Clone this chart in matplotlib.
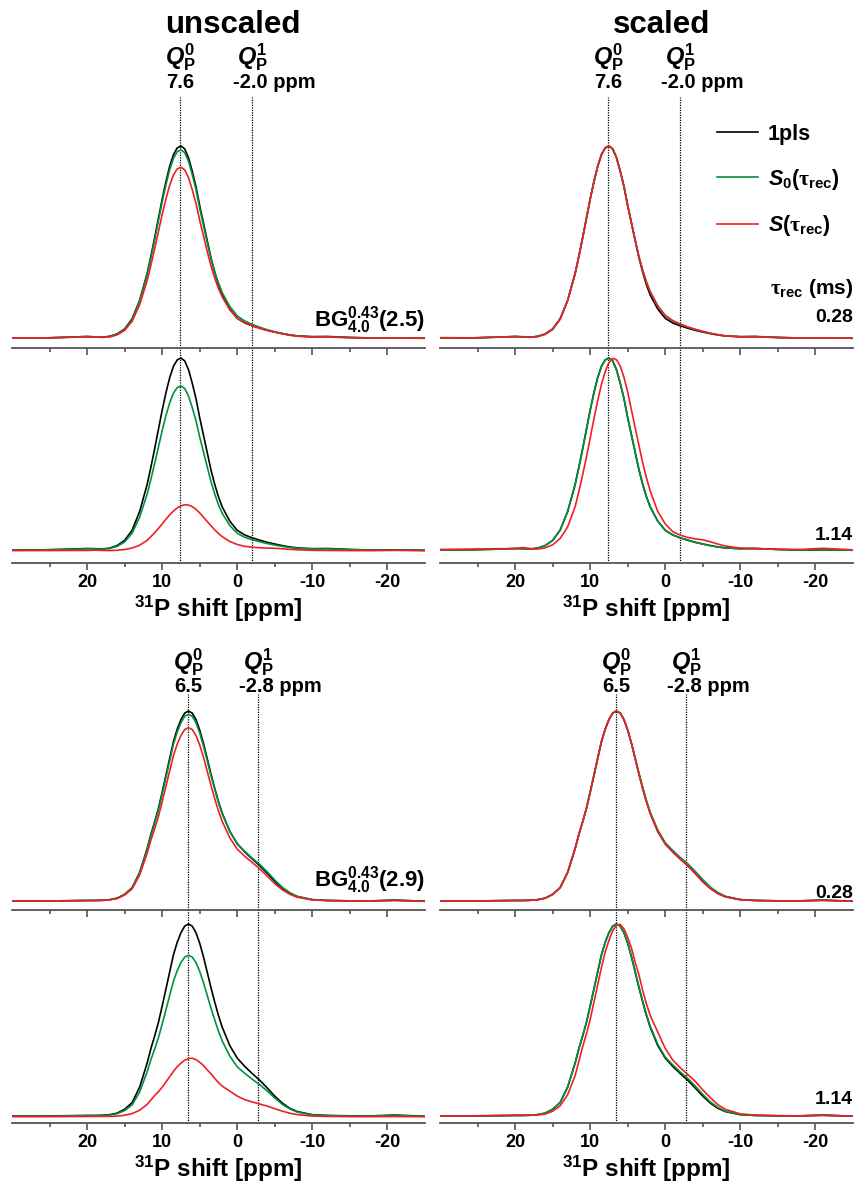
import matplotlib.pyplot as plt
from matplotlib.ticker import FixedLocator
from matplotlib.transforms import blended_transform_factory

plt.rcParams['font.family'] = ['Liberation Sans', 'DejaVu Sans']
plt.rcParams['font.weight'] = 'bold'
plt.rcParams['mathtext.fontset'] = 'custom'
plt.rcParams['mathtext.rm'] = 'Liberation Sans:bold'
plt.rcParams['mathtext.it'] = 'Liberation Sans:italic:bold'
plt.rcParams['mathtext.bf'] = 'Liberation Sans:bold'
plt.rcParams['mathtext.sf'] = 'Liberation Serif'
plt.rcParams['axes.unicode_minus'] = False

# ======================================================================
# data (scaled: each curve normalised to its maximum)

ppm = [30, 26, 22, 20, 19, 18, 17, 16, 15, 14, 13,
       12, 11.5, 11, 10.5, 10, 9.5, 9, 8.5, 8, 7.5, 7, 6.5, 6, 5.5, 5, 4.5, 4, 3.5, 3, 2.5, 2,
       1, 0, -1, -2, -3, -4, -5, -6, -7, -8, -10, -12, -15, -18, -21, -25]

# BG 4.0 0.43 (2.5), tau_rec = 0.28 ms
g1_028_1pls = [.006, .005, .010, .013, .011, .009, .014, .026, .052, .105, .20,
               .34, .43, .525, .625, .725, .815, .895, .955, .99, 1.0, .985, .94, .87, .79, .69, .60, .51, .42, .345, .28, .228,
               .155, .107, .083, .068, .056, .045, .036, .028, .021, .016, .012, .013, .008, .005, .006, .004]
g1_028_s0 = [.006, .005, .010, .013, .011, .009, .013, .025, .050, .103, .20,
             .34, .43, .525, .625, .725, .815, .895, .955, .99, 1.0, .985, .94, .87, .79, .69, .60, .51, .425, .355, .295, .245,
             .172, .122, .095, .077, .062, .049, .038, .029, .022, .016, .012, .012, .008, .005, .006, .004]
g1_028_s = [.007, .006, .010, .012, .012, .010, .012, .024, .050, .103, .20,
            .34, .43, .525, .625, .725, .815, .895, .955, .99, 1.0, .985, .94, .87, .79, .69, .60, .51, .425, .355, .293, .245,
            .170, .120, .094, .077, .062, .050, .040, .030, .022, .016, .011, .012, .007, .005, .006, .004]
# BG 4.0 0.43 (2.5), tau_rec = 1.14 ms
g1_114_1pls = [.006, .006, .010, .013, .012, .010, .015, .028, .055, .108, .205,
               .345, .435, .53, .63, .73, .82, .898, .957, .99, 1.0, .985, .94, .87, .79, .69, .60, .51, .42, .345, .28, .228,
               .155, .107, .083, .068, .056, .045, .036, .028, .021, .016, .012, .013, .008, .005, .006, .004]
g1_114_s0 = [.006, .006, .010, .013, .012, .010, .015, .028, .055, .108, .205,
             .345, .435, .53, .63, .73, .82, .898, .957, .99, 1.0, .985, .94, .87, .79, .69, .60, .51, .42, .345, .28, .228,
             .155, .107, .083, .068, .056, .045, .036, .028, .021, .016, .012, .013, .008, .005, .006, .004]
g1_114_s = [.008, .010, .012, .012, .018, .013, .010, .016, .032, .065, .125,
            .23, .31, .395, .487, .585, .685, .78, .863, .93, .976, .998, .991, .958, .90, .822, .73, .636, .546, .456, .378, .31,
            .205, .14, .10, .082, .07, .063, .058, .048, .036, .026, .015, .012, .009, .008, .014, .006]

# BG 4.0 0.43 (2.9), tau_rec = 0.28 ms
g2_028_1pls = [.005, .005, .007, .008, .008, .009, .012, .020, .040, .075, .155,
               .28, .355, .42, .49, .575, .663, .752, .84, .905, .955, .989, 1.0, .989, .955, .90, .83, .75, .67, .595, .525, .465,
               .37, .305, .262, .225, .19, .15, .108, .072, .045, .028, .012, .008, .006, .006, .010, .004]
g2_028_s0 = [.005, .005, .007, .008, .008, .009, .012, .020, .040, .075, .155,
             .28, .355, .42, .49, .575, .663, .752, .84, .905, .955, .989, 1.0, .989, .955, .90, .83, .752, .673, .60, .53, .47,
             .377, .31, .27, .233, .20, .16, .117, .078, .05, .03, .013, .008, .006, .006, .009, .004]
g2_028_s = [.005, .005, .007, .008, .008, .009, .012, .020, .040, .075, .155,
            .28, .355, .42, .49, .575, .663, .752, .84, .905, .955, .989, 1.0, .989, .955, .90, .83, .75, .668, .592, .522, .462,
            .368, .303, .262, .226, .19, .148, .105, .07, .044, .027, .012, .008, .006, .006, .008, .004]
# BG 4.0 0.43 (2.9), tau_rec = 1.14 ms
g2_114_1pls = [.005, .005, .007, .008, .008, .009, .012, .020, .040, .075, .155,
               .28, .355, .42, .49, .575, .663, .752, .84, .905, .955, .989, 1.0, .989, .955, .90, .83, .75, .67, .595, .525, .465,
               .37, .305, .262, .225, .19, .15, .108, .072, .045, .028, .012, .008, .006, .006, .010, .004]
g2_114_s0 = [.005, .005, .007, .008, .008, .009, .012, .020, .040, .075, .155,
             .28, .355, .42, .49, .575, .663, .752, .84, .905, .955, .989, 1.0, .989, .955, .90, .83, .752, .673, .60, .53, .47,
             .377, .31, .27, .233, .20, .16, .117, .078, .05, .03, .013, .008, .006, .006, .009, .004]
g2_114_s = [.006, .006, .008, .009, .010, .010, .011, .015, .030, .058, .115,
            .215, .29, .365, .43, .505, .595, .685, .775, .855, .915, .965, .993, .998, .975, .93, .875, .80, .735, .655, .585, .525,
            .44, .355, .295, .255, .22, .185, .14, .10, .064, .04, .016, .010, .007, .006, .008, .005]

# relative intensity of the unscaled spectra (1pls, S0, S)
amp_g1_028 = [1.0, 0.98, 0.89]
amp_g1_114 = [1.0, 0.855, 0.24]
amp_g2_028 = [1.0, 0.983, 0.913]
amp_g2_114 = [1.0, 0.838, 0.305]

peaks_g1 = [7.6, -2.0]
peaks_g2 = [6.5, -2.8]
samples = ['2.5', '2.9']
taus = ['0.28', '1.14']
major_ticks = [20, 10, 0, -10, -20]
minor_ticks = [25, 15, 5, -5, -15]
names = ['1pls', r'$S_{0}(\mathsf{\tau}_{\mathrm{rec}})$', r'$S(\mathsf{\tau}_{\mathrm{rec}})$']

# ======================================================================

W, H = 856, 1191
COLORS = ['#000000', '#00923f', '#ee2026']
GREY = '#555555'

fig = plt.figure(figsize=(W / 100, H / 100), dpi=100)


def make_axes(x0, x1, ytop, ybot, base, peak, labels):
    ax = fig.add_axes([x0 / W, 1 - ybot / H, (x1 - x0) / W, (ybot - ytop) / H])
    unit = base - peak
    ax.set_ylim(-(ybot - base) / unit, (base - ytop) / unit)
    ax.set_xlim(30, -25)
    for s in ['top', 'left', 'right']:
        ax.spines[s].set_visible(False)
    ax.spines['bottom'].set_color(GREY)
    ax.spines['bottom'].set_linewidth(1.3)
    ax.xaxis.set_major_locator(FixedLocator(major_ticks))
    ax.xaxis.set_minor_locator(FixedLocator(minor_ticks))
    ax.tick_params(axis='x', which='major', direction='out', length=5, width=1.2, color=GREY,
                   labelsize=13, pad=3, labelbottom=labels)
    ax.tick_params(axis='x', which='minor', direction='out', length=3, width=1.2, color=GREY)
    ax.set_yticks([])
    ax.patch.set_alpha(0)
    if labels:
        ax.set_xlabel(r'$^{31}$P shift [ppm]', fontsize=17.5, fontweight='bold', labelpad=2)
    return ax


groups = [
    dict(curves=[[g1_028_1pls, g1_028_s0, g1_028_s], [g1_114_1pls, g1_114_s0, g1_114_s]],
         amps=[amp_g1_028, amp_g1_114], peaks=peaks_g1, sample=samples[0],
         top=(140, 348, 339, 146), bot=(348, 563, 551, 358), qy=57, vy=83, line_top=97,
         bg_y=320, tau_y=[318, 535]),
    dict(curves=[[g2_028_1pls, g2_028_s0, g2_028_s], [g2_114_1pls, g2_114_s0, g2_114_s]],
         amps=[amp_g2_028, amp_g2_114], peaks=peaks_g2, sample=samples[1],
         top=(700, 910, 902, 711), bot=(910, 1123, 1117, 924), qy=662, vy=686, line_top=694,
         bg_y=880, tau_y=[893, 1100]),
]
columns = [(12, 425), (440, 853)]

legend_ax = None
for g in groups:
    for c, (x0, x1) in enumerate(columns):
        ax_top = make_axes(x0, x1, *g['top'], labels=False)
        ax_bot = make_axes(x0, x1, *g['bot'], labels=True)
        for r, ax in enumerate([ax_top, ax_bot]):
            for k in range(3):
                a = g['amps'][r][k] if c == 0 else 1.0
                y = [v * a for v in g['curves'][r][k]]
                ax.plot(ppm, y, color=COLORS[k], lw=1.2, label=names[k], zorder=3 + k)
        # dotted peak positions
        ytop, ybot = g['top'][0], g['top'][1]
        ymax = (ybot - g['line_top']) / (ybot - ytop)
        for p in g['peaks']:
            ax_top.axvline(p, ymin=0, ymax=ymax, color='black', ls=(0, (1, 1)), lw=0.9, clip_on=False, zorder=1)
            ax_bot.axvline(p, color='black', ls=(0, (1, 1)), lw=0.9, zorder=1)
        tr = blended_transform_factory(ax_top.transData, fig.transFigure)
        q0, q1 = g['peaks']
        ax_top.text(q0, 1 - g['qy'] / H, r'$Q^{0}_{\mathrm{P}}$', transform=tr, ha='center', va='center', fontsize=17)
        ax_top.text(q1, 1 - g['qy'] / H, r'$Q^{1}_{\mathrm{P}}$', transform=tr, ha='center', va='center', fontsize=17)
        ax_top.text(q0, 1 - g['vy'] / H, '%.1f' % q0, transform=tr, ha='center', va='center', fontsize=14.5)
        ax_top.text(q1 + 2.6, 1 - g['vy'] / H, '%.1f ppm' % q1, transform=tr, ha='left', va='center', fontsize=14.5)
        if c == 0:
            fig.text(425 / W, 1 - g['bg_y'] / H, r'BG$^{0.43}_{4.0}$(%s)' % g['sample'],
                     ha='right', va='center', fontsize=16)
        else:
            fig.text(853 / W, 1 - g['tau_y'][0] / H, taus[0], ha='right', va='center', fontsize=14)
            fig.text(853 / W, 1 - g['tau_y'][1] / H, taus[1], ha='right', va='center', fontsize=14)
            if legend_ax is None:
                legend_ax = ax_top

fig.text(233 / W, 1 - 25 / H, 'unscaled', ha='center', va='center', fontsize=22.5)
fig.text(662 / W, 1 - 25 / H, 'scaled', ha='center', va='center', fontsize=22.5)

fig.text(853 / W, 1 - 288 / H, r'$\mathsf{\tau}_{\mathrm{rec}}$ (ms)', ha='right', va='center', fontsize=15)
legend_ax.legend(loc='upper left', bbox_to_anchor=(717 / W, 1 - 124 / H), bbox_transform=fig.transFigure,
                 frameon=False, fontsize=15.5, handlelength=1.9, handletextpad=0.45, labelspacing=1.0,
                 borderpad=0, borderaxespad=0)

fig.savefig('out.png', dpi=100)
